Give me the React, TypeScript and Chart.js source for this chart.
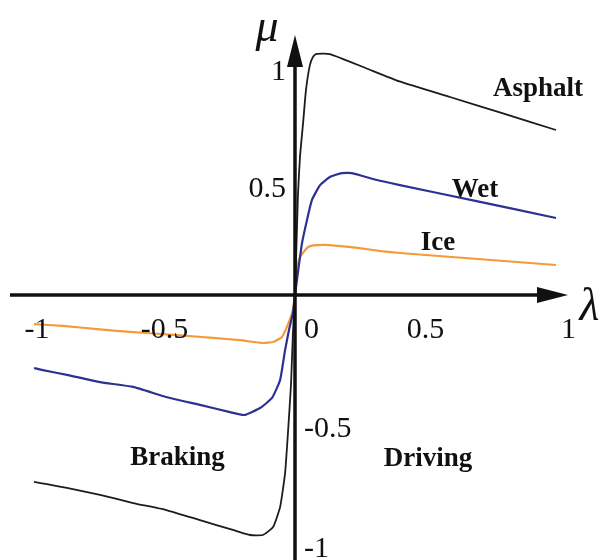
import React, { useEffect, useRef } from "react";
import { Chart, registerables } from "chart.js";

Chart.register(...registerables);

// slip ratio λ / friction coefficient μ
const asphaltLambda = [-1, -0.95, -0.874, -0.747, -0.62, -0.494, -0.364, -0.238, -0.172, -0.123, -0.084, -0.057, -0.038, -0.027, -0.015, -0.008, 0, 0.011, 0.019, 0.031, 0.042, 0.057, 0.069, 0.08, 0.134, 0.27, 0.4, 0.594, 0.8, 1.0];
const asphaltMu = [-0.779, -0.788, -0.804, -0.833, -0.867, -0.896, -0.938, -0.979, -1.0, -1.0, -0.967, -0.883, -0.742, -0.575, -0.367, -0.158, 0, 0.408, 0.575, 0.717, 0.854, 0.958, 0.992, 1.004, 1.004, 0.946, 0.89, 0.825, 0.756, 0.6875];

const wetLambda = [-1, -0.966, -0.874, -0.747, -0.62, -0.494, -0.364, -0.249, -0.195, -0.134, -0.088, -0.057, -0.038, -0.023, -0.008, 0, 0.012, 0.027, 0.046, 0.065, 0.096, 0.134, 0.18, 0.218, 0.314, 0.402, 0.7, 1.0];
const wetMu = [-0.304, -0.313, -0.333, -0.363, -0.383, -0.425, -0.458, -0.488, -0.5, -0.471, -0.429, -0.354, -0.229, -0.146, -0.075, 0, 0.1, 0.217, 0.313, 0.396, 0.458, 0.492, 0.508, 0.508, 0.479, 0.458, 0.39, 0.321];

const iceLambda = [-1, -0.889, -0.759, -0.632, -0.452, -0.314, -0.211, -0.123, -0.084, -0.05, -0.031, -0.011, 0, 0.008, 0.019, 0.05, 0.084, 0.134, 0.24, 0.33, 0.402, 0.7, 1.0];
const iceMu = [-0.121, -0.129, -0.142, -0.154, -0.167, -0.179, -0.188, -0.2, -0.196, -0.175, -0.133, -0.075, 0, 0.104, 0.158, 0.2, 0.208, 0.208, 0.196, 0.183, 0.175, 0.15, 0.125];

const xTickValues = [-1, -0.5, 0, 0.5, 1];
const xTickLabels = ["-1", "-0.5", "0", "0.5", "1"];
const yTickValues = [1, 0.5, -0.5, -1];
const yTickLabels = ["1", "0.5", "-0.5", "-1"];

const surfaceNames = ["Asphalt", "Wet", "Ice"];
const surfaceLabelAt = [[0.931, 0.829], [0.69, 0.408], [0.548, 0.1875]];
const regionNames = ["Braking", "Driving"];
const regionLabelAt = [[-0.45, -0.708], [0.51, -0.7125]];

const toPoints = (xs: number[], ys: number[]) => xs.map((x, i) => ({ x, y: ys[i] }));

const axesPlugin = {
  id: "centerAxes",
  afterDatasetsDraw(chart: any) {
    const { ctx, scales } = chart;
    const xs = scales.x;
    const ys = scales.y;
    const px = (v: number) => xs.getPixelForValue(v);
    const py = (v: number) => ys.getPixelForValue(v);
    const x0 = px(0);
    const y0 = py(0);
    ctx.save();
    ctx.strokeStyle = "#111";
    ctx.fillStyle = "#111";
    ctx.lineWidth = 3.5;
    // x axis
    const xStart = px(-1.092);
    const xTip = px(1.046);
    ctx.beginPath();
    ctx.moveTo(xStart, y0);
    ctx.lineTo(xTip - 28, y0);
    ctx.stroke();
    ctx.beginPath();
    ctx.moveTo(xTip, y0);
    ctx.lineTo(xTip - 31, y0 - 8);
    ctx.lineTo(xTip - 31, y0 + 8);
    ctx.closePath();
    ctx.fill();
    // y axis
    const yTip = py(1.083);
    const yEnd = ys.bottom;
    ctx.beginPath();
    ctx.moveTo(x0, yEnd);
    ctx.lineTo(x0, yTip + 28);
    ctx.stroke();
    ctx.beginPath();
    ctx.moveTo(x0, yTip);
    ctx.lineTo(x0 - 8, yTip + 32);
    ctx.lineTo(x0 + 8, yTip + 32);
    ctx.closePath();
    ctx.fill();

    // tick labels
    ctx.fillStyle = "#111";
    ctx.font = '30px "Liberation Serif", serif';
    ctx.textBaseline = "alphabetic";
    const xLabelBase = py(-0.18);
    xTickValues.forEach((v, i) => {
      let tx = px(v);
      if (v === 0) {
        ctx.textAlign = "left";
        tx = x0 + 9;
      } else if (v === 1) {
        ctx.textAlign = "left";
        tx = px(v) + 5;
      } else {
        ctx.textAlign = "center";
        if (v === -1) tx = px(v) + 3;
      }
      ctx.fillText(xTickLabels[i], tx, xLabelBase);
    });
    yTickValues.forEach((v, i) => {
      const base = py(v) + 22;
      if (v > 0) {
        ctx.textAlign = "right";
        ctx.fillText(yTickLabels[i], x0 - 9, base + (v === 1 ? 3 : 0));
      } else {
        ctx.textAlign = "left";
        ctx.fillText(yTickLabels[i], x0 + 9, base);
      }
    });

    // axis symbols
    ctx.font = 'italic 46px "Liberation Serif", serif';
    ctx.textAlign = "center";
    ctx.fillText("μ", x0 - 28, py(1.083) + 6);
    ctx.fillText("λ", px(1.128), y0 + 25);

    // curve and region labels
    ctx.font = 'bold 27px "Liberation Serif", serif';
    ctx.textAlign = "center";
    surfaceNames.forEach((n, i) => {
      ctx.fillText(n, px(surfaceLabelAt[i][0]), py(surfaceLabelAt[i][1]));
    });
    regionNames.forEach((n, i) => {
      ctx.fillText(n, px(regionLabelAt[i][0]), py(regionLabelAt[i][1]));
    });
    ctx.restore();
  },
};

export default function App() {
  const ref = useRef<HTMLCanvasElement | null>(null);
  useEffect(() => {
    document.body.style.margin = "0";
    if (!ref.current) return;
    const chart = new Chart(ref.current, {
      type: "line",
      data: {
        datasets: [
          { label: "Asphalt", data: toPoints(asphaltLambda, asphaltMu), borderColor: "#1c1c1c", borderWidth: 1.8, pointRadius: 0, tension: 0.15, fill: false },
          { label: "Wet", data: toPoints(wetLambda, wetMu), borderColor: "#2e3192", borderWidth: 2.2, pointRadius: 0, tension: 0.15, fill: false },
          { label: "Ice", data: toPoints(iceLambda, iceMu), borderColor: "#f59a38", borderWidth: 2.2, pointRadius: 0, tension: 0.15, fill: false },
        ],
      },
      options: {
        animation: false,
        responsive: false,
        devicePixelRatio: 1,
        layout: { padding: 0 },
        plugins: { legend: { display: false }, tooltip: { enabled: false } },
        scales: {
          x: { type: "linear", min: -1.1303, max: 1.1801, display: false },
          y: { type: "linear", min: -1.1042, max: 1.2292, display: false },
        },
      },
      plugins: [axesPlugin],
    });
    return () => chart.destroy();
  }, []);
  return <canvas ref={ref} width={603} height={560} style={{ display: "block" }} />;
}
